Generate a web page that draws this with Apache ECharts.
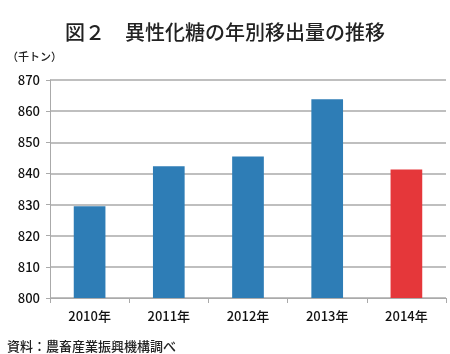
<!DOCTYPE html>
<html>
<head>
<meta charset="utf-8">
<script src="https://cdn.jsdelivr.net/npm/echarts@6/dist/echarts.min.js"></script>
<style>
  html, body { margin: 0; padding: 0; background: #fff; }
  #chart { width: 450px; height: 354px; }
</style>
</head>
<body>
<div id="chart"></div>
<script>
const years = ['2010年', '2011年', '2012年', '2013年', '2014年'];
const shipments = [829.5, 842.3, 845.4, 863.8, 841.3];
const barColors = ['#2e7db6', '#2e7db6', '#2e7db6', '#2e7db6', '#e5373a'];

const font = '"Noto Sans CJK JP", "Noto Sans", sans-serif';

const chart = echarts.init(document.getElementById('chart'));

chart.setOption({
    backgroundColor: '#fff',
    animation: false,
    textStyle: { fontFamily: font },
    title: [{
        text: '図２　異性化糖の年別移出量の推移',
        left: 'center',
        top: 17,
        textStyle: { fontSize: 20, fontWeight: 500, color: '#222', fontFamily: font }
    }, {
        text: '（千トン）',
        left: 2,
        top: 46,
        textStyle: { fontSize: 11, fontWeight: 500, color: '#222', fontFamily: font }
    }, {
        text: '資料：農畜産業振興機構調べ',
        left: 2,
        top: 335,
        textStyle: { fontSize: 13, fontWeight: 500, color: '#222', fontFamily: font }
    }],
    grid: { left: 50, right: 4, top: 80, bottom: 56 },
    xAxis: {
        type: 'category',
        data: years,
        axisLine: { lineStyle: { color: '#aaa', width: 1 } },
        axisTick: { show: true, length: 5, lineStyle: { color: '#aaa' } },
        axisLabel: { color: '#111', fontSize: 13, fontWeight: 500, margin: 12 }
    },
    yAxis: {
        type: 'value',
        min: 800,
        max: 870,
        interval: 10,
        axisLine: { show: true, lineStyle: { color: '#aaa', width: 1 } },
        axisTick: { show: true, length: 4, lineStyle: { color: '#aaa' } },
        axisLabel: { color: '#111', fontSize: 13, fontWeight: 500, margin: 10 },
        splitLine: { lineStyle: { color: '#aaa', width: 1.5 } }
    },
    series: [{
        type: 'bar',
        barWidth: '40%',
        data: shipments.map((v, i) => ({ value: v, itemStyle: { color: barColors[i] } }))
    }]
});
</script>
</body>
</html>
